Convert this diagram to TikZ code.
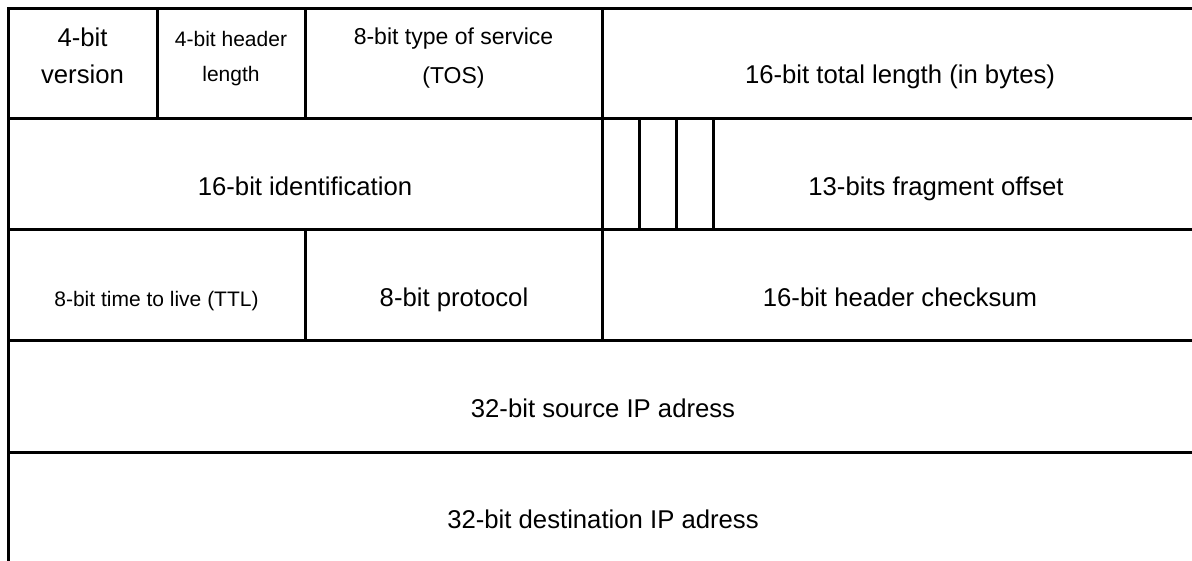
\documentclass[tikz,border=0pt]{standalone}
\usepackage{fontspec}
\setmainfont{Liberation Sans}
\begin{document}
\begin{tikzpicture}[x=1pt,y=-1pt,
  cell/.style={draw=black,line width=3pt},
  lbl/.style={anchor=base,inner sep=0pt,text=black,font=\fontsize{25.7}{30}\selectfont},
  lblmid/.style={lbl,font=\fontsize{23}{28}\selectfont},
  lblsm/.style={lbl,font=\fontsize{21}{25}\selectfont}]
\useasboundingbox (0,0) rectangle (1192,561);
\clip (0,0) rectangle (1192,561);
% row 1
\draw[cell] (8.5,8.5) rectangle (157,119);
\draw[cell] (157,8.5) rectangle (305,119);
\draw[cell] (305,8.5) rectangle (602,119);
\draw[cell] (602,8.5) rectangle (1198,119);
% row 2
\draw[cell] (8.5,119) rectangle (602,230);
\draw[cell] (602,119) rectangle (639,230);
\draw[cell] (639,119) rectangle (676,230);
\draw[cell] (676,119) rectangle (713,230);
\draw[cell] (713,119) rectangle (1198,230);
% row 3
\draw[cell] (8.5,230) rectangle (305,341);
\draw[cell] (305,230) rectangle (602,341);
\draw[cell] (602,230) rectangle (1198,341);
% row 4, 5
\draw[cell] (8.5,341) rectangle (1198,452);
\draw[cell] (8.5,452) rectangle (1198,563);
% labels
\node[lbl] (ver1) at (82.5,47) {4-bit};
\node[lbl] (ver2) at (82.5,84) {version};
\node[lblsm] (hl1) at (231,47) {4-bit header};
\node[lblsm] (hl2) at (231,82) {length};
\node[lblmid] (tos1) at (453.5,45) {8-bit type of service};
\node[lblmid] (tos2) at (453.5,84) {(TOS)};
\node[lbl] (tot) at (900,84) {16-bit total length (in bytes)};
\node[lbl] (ident) at (305,195.5) {16-bit identification};
\node[lbl] (frag) at (936,195.5) {13-bits fragment offset};
\node[lblsm] (ttl) at (156.5,306.5) {8-bit time to live (TTL)};
\node[lbl] (proto) at (454,306.5) {8-bit protocol};
\node[lbl] (chk) at (900,306.5) {16-bit header checksum};
\node[lbl] (src) at (603,417.5) {32-bit source IP adress};
\node[lbl] (dst) at (603,528.5) {32-bit destination IP adress};
\end{tikzpicture}
\end{document}
